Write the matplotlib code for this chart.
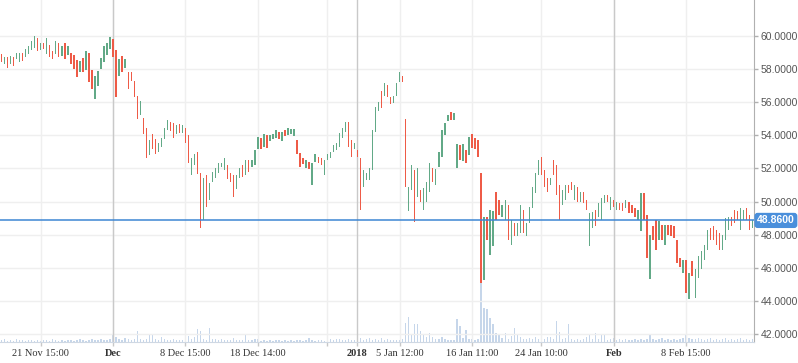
import matplotlib.pyplot as plt
from matplotlib.transforms import blended_transform_factory

# candle data, one value per bar (hourly-ish session candles)
opens = [
    58.90, 58.30, 58.70, 58.30, 58.75, 58.60, 58.40, 59.00, 58.70, 58.90,
    59.15, 59.30, 59.90, 59.15, 59.60, 58.90, 59.45, 59.10, 58.90, 59.60,
    58.80, 59.55, 58.85, 59.00, 58.85, 58.55, 57.80, 58.65, 57.95, 59.00,
    57.95, 56.20, 57.00, 58.00, 58.40, 58.85, 59.20, 59.80, 59.15, 57.60,
    58.80, 58.05, 57.80, 57.85, 57.30, 56.40, 55.25, 55.05, 54.45, 52.80,
    54.10, 53.80, 53.00, 53.30, 53.75, 54.35, 54.80, 54.75, 54.05, 54.70,
    54.15, 54.45, 54.00, 51.60, 52.20, 53.00, 51.75, 48.90, 51.60, 50.10,
    51.20, 51.40, 51.75, 52.10, 51.90, 52.20, 51.75, 51.60, 50.75, 51.40,
    52.20, 51.60, 52.50, 52.10, 52.20, 53.15, 53.85, 53.30, 54.00, 53.65,
    53.75, 53.85, 54.20, 53.65, 54.30, 54.00, 54.05, 53.95, 53.70, 52.95,
    52.60, 52.05, 52.40, 51.00, 52.40, 52.70, 52.60, 51.60, 52.50, 52.65,
    53.00, 53.10, 53.30, 53.85, 54.20, 54.80, 53.70, 53.20, 53.10, 52.60,
    50.90, 51.30, 51.30, 51.90, 54.20, 55.45, 56.70, 56.35, 57.05, 56.30,
    55.95, 56.40, 57.20, 57.60, 55.00, 49.45, 50.70, 51.90, 50.30, 50.70,
    49.50, 50.00, 50.60, 52.00, 51.00, 52.10, 52.70, 54.00, 54.85, 55.40,
    54.95, 52.05, 53.40, 52.45, 53.10, 52.80, 54.10, 53.85, 53.70, 51.70,
    45.25, 49.05, 46.80, 47.30, 50.60, 50.10, 49.05, 48.90, 49.80, 47.40,
    48.70, 47.90, 48.10, 49.50, 47.90, 48.70, 49.60, 50.50, 51.60, 52.70,
    51.90, 51.45, 51.00, 52.50, 52.20, 51.00, 49.80, 50.10, 51.00, 51.20,
    50.10, 50.90, 50.00, 50.55, 50.10, 47.30, 48.40, 49.50, 49.05, 48.90,
    49.90, 50.40, 49.50, 50.10, 49.50, 49.90, 49.90, 49.60, 50.00, 49.80,
    49.60, 48.90, 48.20, 50.50, 49.20, 45.30, 48.50, 48.90, 47.70, 48.60,
    47.40, 48.60, 48.60, 48.50, 47.70, 46.60, 45.70, 46.50, 44.10, 46.40,
    44.20, 45.40, 45.90, 46.50, 47.10, 48.40, 48.50, 48.30, 48.10, 47.10,
    47.70, 48.30, 49.05, 49.50, 49.40, 48.30, 48.90, 49.60, 49.20, 48.40,
]
closes = [
    58.45, 58.75, 58.05, 58.80, 58.20, 59.00, 58.95, 58.50, 59.20, 59.40,
    59.70, 60.00, 59.10, 59.55, 59.20, 59.90, 58.75, 58.60, 59.70, 58.75,
    59.40, 58.60, 59.40, 58.30, 58.00, 57.55, 58.50, 57.85, 59.10, 57.20,
    56.80, 57.60, 57.90, 58.65, 59.40, 59.55, 59.95, 58.75, 56.30, 58.60,
    57.85, 58.60, 56.80, 57.25, 56.30, 55.00, 56.10, 54.05, 52.60, 53.70,
    53.15, 52.85, 53.55, 53.85, 54.45, 54.90, 54.25, 53.85, 54.60, 54.15,
    54.65, 53.55, 52.35, 52.60, 52.90, 51.65, 48.40, 51.40, 49.65, 51.10,
    51.80, 52.00, 52.30, 52.35, 52.60, 51.35, 51.20, 50.30, 51.60, 52.00,
    51.50, 52.50, 51.80, 52.50, 53.10, 53.90, 53.15, 54.10, 53.25, 54.00,
    54.10, 54.30, 53.75, 54.20, 53.95, 54.45, 54.40, 54.40, 52.85, 52.10,
    52.25, 52.50, 51.95, 52.35, 52.90, 52.35, 52.20, 52.50, 52.90, 53.00,
    53.40, 53.55, 54.15, 54.45, 54.80, 53.30, 52.70, 53.55, 52.70, 49.50,
    51.90, 51.75, 52.05, 54.30, 55.70, 56.00, 55.65, 57.15, 56.30, 55.90,
    56.40, 57.15, 57.80, 57.20, 50.90, 50.90, 52.20, 48.75, 52.05, 50.00,
    50.80, 51.20, 52.30, 51.20, 51.95, 53.00, 54.30, 54.75, 55.20, 54.95,
    55.35, 53.50, 52.50, 53.45, 52.35, 53.90, 53.25, 53.15, 52.70, 45.10,
    49.05, 47.70, 49.50, 49.45, 48.90, 49.20, 49.80, 50.10, 47.70, 48.90,
    47.90, 48.70, 49.80, 48.10, 48.70, 49.70, 50.90, 51.70, 52.50, 51.60,
    50.90, 50.55, 51.40, 51.60, 50.40, 48.90, 50.70, 51.00, 50.50, 50.70,
    51.00, 50.00, 50.55, 49.90, 49.50, 49.30, 49.35, 48.50, 49.90, 50.20,
    50.40, 50.00, 50.30, 49.70, 50.00, 49.50, 49.40, 50.10, 49.30, 49.30,
    49.05, 49.50, 50.50, 48.90, 46.60, 48.00, 47.70, 47.10, 48.80, 47.70,
    48.60, 48.00, 47.90, 47.80, 46.30, 46.05, 46.50, 44.50, 45.70, 45.50,
    45.90, 46.70, 47.00, 47.40, 48.30, 47.70, 47.70, 47.40, 47.10, 48.00,
    49.00, 49.05, 48.50, 48.70, 48.90, 49.60, 49.50, 48.90, 48.30, 48.86,
]
volumes = [
    2, 3, 1, 2, 1, 3, 2, 2, 1, 2, 2, 1, 2, 1, 2, 2, 1, 3, 2, 1,
    2, 1, 2, 2, 1, 2, 3, 2, 1, 2, 3, 2, 2, 3, 2, 2, 3, 7, 5, 3,
    2, 4, 3, 2, 3, 11, 3, 2, 3, 7, 7, 3, 2, 5, 3, 2, 2, 3, 2, 2,
    2, 3, 6, 3, 5, 13, 11, 3, 2, 14, 3, 3, 2, 3, 2, 2, 2, 4, 2, 2,
    2, 7, 2, 2, 3, 3, 1, 2, 1, 2, 1, 2, 2, 1, 2, 1, 2, 1, 2, 2,
    1, 2, 4, 2, 1, 2, 2, 1, 2, 3, 2, 3, 3, 2, 2, 3, 2, 2, 6, 4,
    2, 3, 4, 2, 3, 2, 4, 2, 3, 2, 2, 2, 2, 3, 18, 24, 8, 17, 17, 11,
    7, 5, 9, 5, 3, 3, 5, 3, 2, 2, 2, 22, 15, 4, 12, 3, 3, 2, 3, 58,
    33, 32, 23, 17, 9, 7, 4, 9, 3, 6, 14, 7, 5, 3, 3, 4, 3, 5, 3, 5,
    3, 5, 5, 3, 20, 10, 3, 4, 17, 3, 2, 3, 2, 3, 5, 8, 3, 9, 3, 7,
    8, 2, 3, 4, 2, 3, 2, 3, 2, 2, 3, 2, 3, 2, 3, 8, 3, 2, 3, 4,
    2, 3, 2, 3, 2, 3, 4, 7, 4, 3, 3, 4, 3, 2, 3, 4, 2, 3, 2, 3,
    4, 2, 3, 2, 3, 4, 2, 3, 2, 3,
]
last_price = 48.86

tick_pos = [13, 37, 61, 85, 108, 118, 132, 156, 179, 203, 227]
tick_labels = ['21 Nov 15:00', 'Dec', '8 Dec 15:00', '18 Dec 14:00', '', '2018',
               '5 Jan 12:00', '16 Jan 11:00', '24 Jan 10:00', 'Feb', '8 Feb 15:00']
month_pos = [37, 118, 203]
grid_pos = [13, 37, 61, 85, 108, 132, 156, 179, 203, 227]
price_ticks = [42, 44, 46, 48, 50, 52, 54, 56, 58, 60]

up_color = '#62a987'
down_color = '#ee5b47'

fig = plt.figure(figsize=(7.98, 3.63), dpi=100)
rect = [0, 1 - 342 / 363, 754 / 798, 342 / 363]

# volume panel sits behind the price panel
axv = fig.add_axes(rect)
ax = fig.add_axes(rect, sharex=axv)
ax.patch.set_visible(False)

n = len(closes)
xs = list(range(n))
axv.bar(xs, volumes, width=0.45, color='#c6d6ea', linewidth=0)
axv.set_ylim(0, max(volumes) * 342 / 60)
axv.axis('off')

for g in grid_pos:
    ax.axvline(g, color='#efefef', lw=1, zorder=0)
for m in month_pos:
    ax.axvline(m, color='#c9c9c9', lw=1, zorder=0.5)
for p in price_ticks:
    ax.axhline(p, color='#efefef', lw=1, zorder=0)

colors = [up_color if c >= o else down_color for o, c in zip(opens, closes)]
heights = [c - o for o, c in zip(opens, closes)]
ax.bar(xs, heights, bottom=opens, width=0.45, color=colors, linewidth=0, zorder=2)

ax.axhline(last_price, color='#3d86d3', lw=1.1, zorder=3)

ax.set_xlim(-0.5, n - 0.5)
ax.set_ylim(41.52, 62.17)

ax.yaxis.tick_right()
ax.set_yticks(price_ticks)
ax.set_yticklabels(['%.4f' % p for p in price_ticks], family='Liberation Sans',
                   fontsize=7.5, color='#555555')
ax.tick_params(axis='y', length=3, width=1, color='#b0b0b0', pad=2)

ax.set_xticks(tick_pos)
ax.set_xticklabels(tick_labels, family='Liberation Serif', fontsize=7.5, color='#333333')
for lbl, txt in zip(ax.get_xticklabels(), tick_labels):
    if txt in ('Dec', '2018', 'Feb'):
        lbl.set_fontweight('bold')
ax.tick_params(axis='x', length=3, width=1, color='#c8c8c8', pad=2)

for side in ('top', 'left'):
    ax.spines[side].set_visible(False)
ax.spines['right'].set_color('#b0b0b0')
ax.spines['bottom'].set_color('#cfd8e3')

trans = blended_transform_factory(ax.transAxes, ax.transData)
ax.text(1.004, last_price, '%.4f' % last_price, transform=trans, ha='left', va='center',
        family='Liberation Sans', fontsize=7.5, fontweight='bold', color='white', zorder=5,
        bbox=dict(boxstyle='round,pad=0.25,rounding_size=0.3', fc='#4a8fdb', ec='none'),
        clip_on=False)

fig.savefig('out.png', dpi=100)
